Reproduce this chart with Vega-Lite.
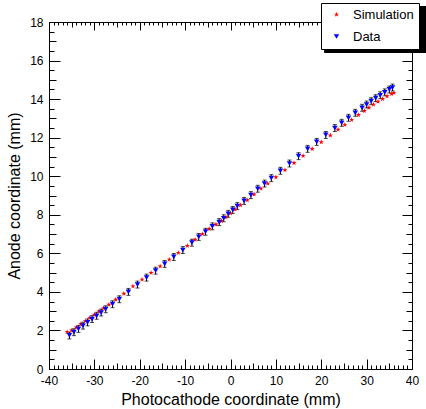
{
  "$schema": "https://vega.github.io/schema/vega-lite/v6.json",
  "width": 363,
  "height": 347,
  "autosize": "none",
  "padding": {"left": 49, "top": 22, "right": 14, "bottom": 40},
  "background": "white",
  "config": {
    "view": {"stroke": "black", "strokeWidth": 1},
    "font": "Liberation Sans",
    "axis": {"grid": false, "domain": false, "tickColor": "black", "tickWidth": 1, "labelColor": "black", "titleColor": "black", "labelFont": "Liberation Sans", "titleFont": "Liberation Sans", "labelFontSize": 12, "titleFontSize": 16, "titleFontWeight": "normal", "labelOverlap": false, "labelFlush": false}
  },
  "data": {"values": [
    {"x": -36.0, "y": 1.92, "s": "Simulation"}, {"x": -35.0, "y": 2.00, "s": "Simulation"}, {"x": -34.0, "y": 2.16, "s": "Simulation"}, {"x": -33.0, "y": 2.33, "s": "Simulation"}, {"x": -32.0, "y": 2.49, "s": "Simulation"}, {"x": -31.0, "y": 2.66, "s": "Simulation"}, {"x": -30.0, "y": 2.82, "s": "Simulation"}, {"x": -29.0, "y": 2.99, "s": "Simulation"}, {"x": -28.0, "y": 3.15, "s": "Simulation"}, {"x": -26.8, "y": 3.34, "s": "Simulation"}, {"x": -25.3, "y": 3.60, "s": "Simulation"}, {"x": -23.5, "y": 3.91, "s": "Simulation"}, {"x": -21.5, "y": 4.29, "s": "Simulation"}, {"x": -19.5, "y": 4.64, "s": "Simulation"}, {"x": -17.5, "y": 4.99, "s": "Simulation"}, {"x": -15.5, "y": 5.33, "s": "Simulation"}, {"x": -13.5, "y": 5.68, "s": "Simulation"}, {"x": -11.5, "y": 6.03, "s": "Simulation"}, {"x": -9.5, "y": 6.39, "s": "Simulation"}, {"x": -7.8, "y": 6.71, "s": "Simulation"}, {"x": -6.2, "y": 7.00, "s": "Simulation"}, {"x": -4.7, "y": 7.27, "s": "Simulation"}, {"x": -3.2, "y": 7.50, "s": "Simulation"}, {"x": -2.0, "y": 7.68, "s": "Simulation"}, {"x": -1.0, "y": 7.88, "s": "Simulation"}, {"x": 0.0, "y": 8.08, "s": "Simulation"}, {"x": 1.0, "y": 8.28, "s": "Simulation"}, {"x": 2.2, "y": 8.50, "s": "Simulation"}, {"x": 3.7, "y": 8.76, "s": "Simulation"}, {"x": 5.2, "y": 9.06, "s": "Simulation"}, {"x": 6.7, "y": 9.36, "s": "Simulation"}, {"x": 8.2, "y": 9.62, "s": "Simulation"}, {"x": 10.0, "y": 9.95, "s": "Simulation"}, {"x": 12.0, "y": 10.32, "s": "Simulation"}, {"x": 14.0, "y": 10.69, "s": "Simulation"}, {"x": 16.0, "y": 11.06, "s": "Simulation"}, {"x": 18.0, "y": 11.42, "s": "Simulation"}, {"x": 20.0, "y": 11.77, "s": "Simulation"}, {"x": 22.0, "y": 12.12, "s": "Simulation"}, {"x": 23.7, "y": 12.42, "s": "Simulation"}, {"x": 25.2, "y": 12.67, "s": "Simulation"}, {"x": 26.7, "y": 12.93, "s": "Simulation"}, {"x": 28.2, "y": 13.18, "s": "Simulation"}, {"x": 29.5, "y": 13.39, "s": "Simulation"}, {"x": 30.5, "y": 13.56, "s": "Simulation"}, {"x": 31.5, "y": 13.72, "s": "Simulation"}, {"x": 32.5, "y": 13.87, "s": "Simulation"}, {"x": 33.5, "y": 14.01, "s": "Simulation"}, {"x": 34.5, "y": 14.15, "s": "Simulation"}, {"x": 35.5, "y": 14.27, "s": "Simulation"}, {"x": 36.0, "y": 14.33, "s": "Simulation"},
    {"x": -35.5, "y": 1.74, "s": "Data", "err": 0.18}, {"x": -34.5, "y": 1.91, "s": "Data", "err": 0.18}, {"x": -33.5, "y": 2.08, "s": "Data", "err": 0.18}, {"x": -32.5, "y": 2.25, "s": "Data", "err": 0.18}, {"x": -31.5, "y": 2.42, "s": "Data", "err": 0.18}, {"x": -30.5, "y": 2.59, "s": "Data", "err": 0.18}, {"x": -29.5, "y": 2.76, "s": "Data", "err": 0.18}, {"x": -28.5, "y": 2.93, "s": "Data", "err": 0.18}, {"x": -27.5, "y": 3.10, "s": "Data", "err": 0.18}, {"x": -26.0, "y": 3.36, "s": "Data", "err": 0.18}, {"x": -24.5, "y": 3.62, "s": "Data", "err": 0.18}, {"x": -22.5, "y": 4.00, "s": "Data", "err": 0.18}, {"x": -20.5, "y": 4.38, "s": "Data", "err": 0.18}, {"x": -18.5, "y": 4.74, "s": "Data", "err": 0.18}, {"x": -16.5, "y": 5.10, "s": "Data", "err": 0.18}, {"x": -14.5, "y": 5.45, "s": "Data", "err": 0.18}, {"x": -12.5, "y": 5.81, "s": "Data", "err": 0.18}, {"x": -10.5, "y": 6.17, "s": "Data", "err": 0.18}, {"x": -8.5, "y": 6.55, "s": "Data", "err": 0.18}, {"x": -7.0, "y": 6.85, "s": "Data", "err": 0.18}, {"x": -5.5, "y": 7.12, "s": "Data", "err": 0.18}, {"x": -4.0, "y": 7.40, "s": "Data", "err": 0.18}, {"x": -2.5, "y": 7.62, "s": "Data", "err": 0.18}, {"x": -1.5, "y": 7.82, "s": "Data", "err": 0.18}, {"x": -0.5, "y": 8.05, "s": "Data", "err": 0.18}, {"x": 0.5, "y": 8.25, "s": "Data", "err": 0.18}, {"x": 1.5, "y": 8.45, "s": "Data", "err": 0.18}, {"x": 3.0, "y": 8.72, "s": "Data", "err": 0.18}, {"x": 4.5, "y": 9.02, "s": "Data", "err": 0.18}, {"x": 6.0, "y": 9.35, "s": "Data", "err": 0.18}, {"x": 7.5, "y": 9.62, "s": "Data", "err": 0.18}, {"x": 9.0, "y": 9.90, "s": "Data", "err": 0.18}, {"x": 11.0, "y": 10.28, "s": "Data", "err": 0.18}, {"x": 13.0, "y": 10.66, "s": "Data", "err": 0.18}, {"x": 15.0, "y": 11.04, "s": "Data", "err": 0.18}, {"x": 17.0, "y": 11.42, "s": "Data", "err": 0.18}, {"x": 19.0, "y": 11.78, "s": "Data", "err": 0.18}, {"x": 21.0, "y": 12.14, "s": "Data", "err": 0.18}, {"x": 23.0, "y": 12.50, "s": "Data", "err": 0.18}, {"x": 24.5, "y": 12.77, "s": "Data", "err": 0.18}, {"x": 26.0, "y": 13.03, "s": "Data", "err": 0.18}, {"x": 27.5, "y": 13.29, "s": "Data", "err": 0.18}, {"x": 29.0, "y": 13.55, "s": "Data", "err": 0.18}, {"x": 30.0, "y": 13.72, "s": "Data", "err": 0.18}, {"x": 31.0, "y": 13.89, "s": "Data", "err": 0.18}, {"x": 32.0, "y": 14.05, "s": "Data", "err": 0.18}, {"x": 33.0, "y": 14.20, "s": "Data", "err": 0.18}, {"x": 34.0, "y": 14.35, "s": "Data", "err": 0.18}, {"x": 35.0, "y": 14.50, "s": "Data", "err": 0.18}, {"x": 35.7, "y": 14.60, "s": "Data", "err": 0.18}
  ]},
  "resolve": {"axis": {"x": "independent", "y": "independent"}},
  "layer": [
    {
      "mark": {"type": "point", "filled": true, "opacity": 0, "size": 30},
      "encoding": {
        "x": {"field": "x", "type": "quantitative", "axis": null},
        "y": {"field": "y", "type": "quantitative", "axis": null},
        "size": {"field": "s", "type": "nominal",
          "scale": {"domain": ["Data", "Simulation"], "range": [30, 30]},
          "legend": {"title": null, "orient": "none", "legendX": 275, "legendY": -16, "zindex": 0, "fillColor": "black", "strokeColor": "black", "padding": 5, "rowPadding": 8, "labelFontSize": 13, "labelFont": "Liberation Sans", "labelColor": "black", "symbolFillColor": "black", "symbolStrokeColor": "black", "symbolOpacity": 1, "labelOffset": 95, "symbolOffset": 4, "labelExpr": "''"}}
      }
    },
    {
      "transform": [{"filter": "datum.s === 'Data'"}],
      "mark": {"type": "errorbar", "color": "black", "thickness": 1, "ticks": {"size": 4, "color": "black"}},
      "encoding": {
        "x": {"field": "x", "type": "quantitative", "scale": {"domain": [-40, 40], "nice": false, "zero": false},
          "axis": {"orient": "bottom", "title": "Photocathode coordinate (mm)", "titlePadding": -1, "labelPadding": 16,
            "values": [-40,-39,-38,-37,-36,-35,-34,-33,-32,-31,-30,-29,-28,-27,-26,-25,-24,-23,-22,-21,-20,-19,-18,-17,-16,-15,-14,-13,-12,-11,-10,-9,-8,-7,-6,-5,-4,-3,-2,-1,0,1,2,3,4,5,6,7,8,9,10,11,12,13,14,15,16,17,18,19,20,21,22,23,24,25,26,27,28,29,30,31,32,33,34,35,36,37,38,39,40],
            "tickSize": {"condition": [{"test": "datum.value % 10 === 0", "value": -10}, {"test": "datum.value % 5 === 0", "value": -6}], "value": -4},
            "labelExpr": "datum.value % 10 === 0 ? '' + datum.value : ''"}},
        "y": {"field": "y", "type": "quantitative", "scale": {"domain": [0, 18], "nice": false, "zero": false},
          "axis": {"orient": "left", "title": "Anode coordinate (mm)", "titlePadding": 7, "labelPadding": 17,
            "values": [0,0.5,1,1.5,2,2.5,3,3.5,4,4.5,5,5.5,6,6.5,7,7.5,8,8.5,9,9.5,10,10.5,11,11.5,12,12.5,13,13.5,14,14.5,15,15.5,16,16.5,17,17.5,18],
            "tickSize": {"condition": [{"test": "datum.value % 2 === 0", "value": -11}, {"test": "datum.value % 1 === 0", "value": -7}], "value": -5},
            "labelExpr": "datum.value % 2 === 0 ? '' + datum.value : ''"}},
        "yError": {"field": "err"}
      }
    },
    {
      "mark": {"type": "point", "filled": true, "opacity": 1, "size": 30},
      "encoding": {
        "x": {"field": "x", "type": "quantitative",
          "axis": {"orient": "top", "title": null, "labels": false,
            "values": [-40,-39,-38,-37,-36,-35,-34,-33,-32,-31,-30,-29,-28,-27,-26,-25,-24,-23,-22,-21,-20,-19,-18,-17,-16,-15,-14,-13,-12,-11,-10,-9,-8,-7,-6,-5,-4,-3,-2,-1,0,1,2,3,4,5,6,7,8,9,10,11,12,13,14,15,16,17,18,19,20,21,22,23,24,25,26,27,28,29,30,31,32,33,34,35,36,37,38,39,40],
            "tickSize": {"condition": [{"test": "datum.value % 10 === 0", "value": -8}, {"test": "datum.value % 5 === 0", "value": -5}], "value": -3}}},
        "y": {"field": "y", "type": "quantitative",
          "axis": {"orient": "right", "title": null, "labels": false,
            "values": [0,0.5,1,1.5,2,2.5,3,3.5,4,4.5,5,5.5,6,6.5,7,7.5,8,8.5,9,9.5,10,10.5,11,11.5,12,12.5,13,13.5,14,14.5,15,15.5,16,16.5,17,17.5,18],
            "tickSize": {"condition": [{"test": "datum.value % 2 === 0", "value": -10}, {"test": "datum.value % 1 === 0", "value": -6}], "value": -4}}},
        "color": {"field": "s", "type": "nominal",
          "scale": {"domain": ["Simulation", "Data"], "range": ["#ff0000", "#0000ff"]},
          "legend": {"title": null, "orient": "none", "legendX": 272, "legendY": -19, "zindex": 2, "fillColor": "white", "strokeColor": "black", "padding": 5, "rowPadding": 8, "labelFontSize": 13, "labelFont": "Liberation Sans", "labelColor": "black", "symbolSize": 30, "labelOffset": 10, "symbolOffset": 4, "labelExpr": "datum.label + '\u00a0\u00a0\u00a0\u00a0'"}},
        "shape": {"field": "s", "type": "nominal",
          "scale": {"domain": ["Simulation", "Data"], "range": ["M0,-1L0.2245,-0.309L0.951,-0.309L0.363,0.118L0.588,0.809L0,0.382L-0.588,0.809L-0.363,0.118L-0.951,-0.309L-0.2245,-0.309Z", "triangle-down"]},
          "legend": {"title": null, "orient": "none", "legendX": 272, "legendY": -19, "zindex": 2, "fillColor": "white", "strokeColor": "black", "padding": 5, "rowPadding": 8, "labelFontSize": 13, "labelFont": "Liberation Sans", "labelColor": "black", "symbolSize": 30, "labelOffset": 10, "symbolOffset": 4, "labelExpr": "datum.label + '\u00a0\u00a0\u00a0\u00a0'"}}
      }
    }
  ]
}
